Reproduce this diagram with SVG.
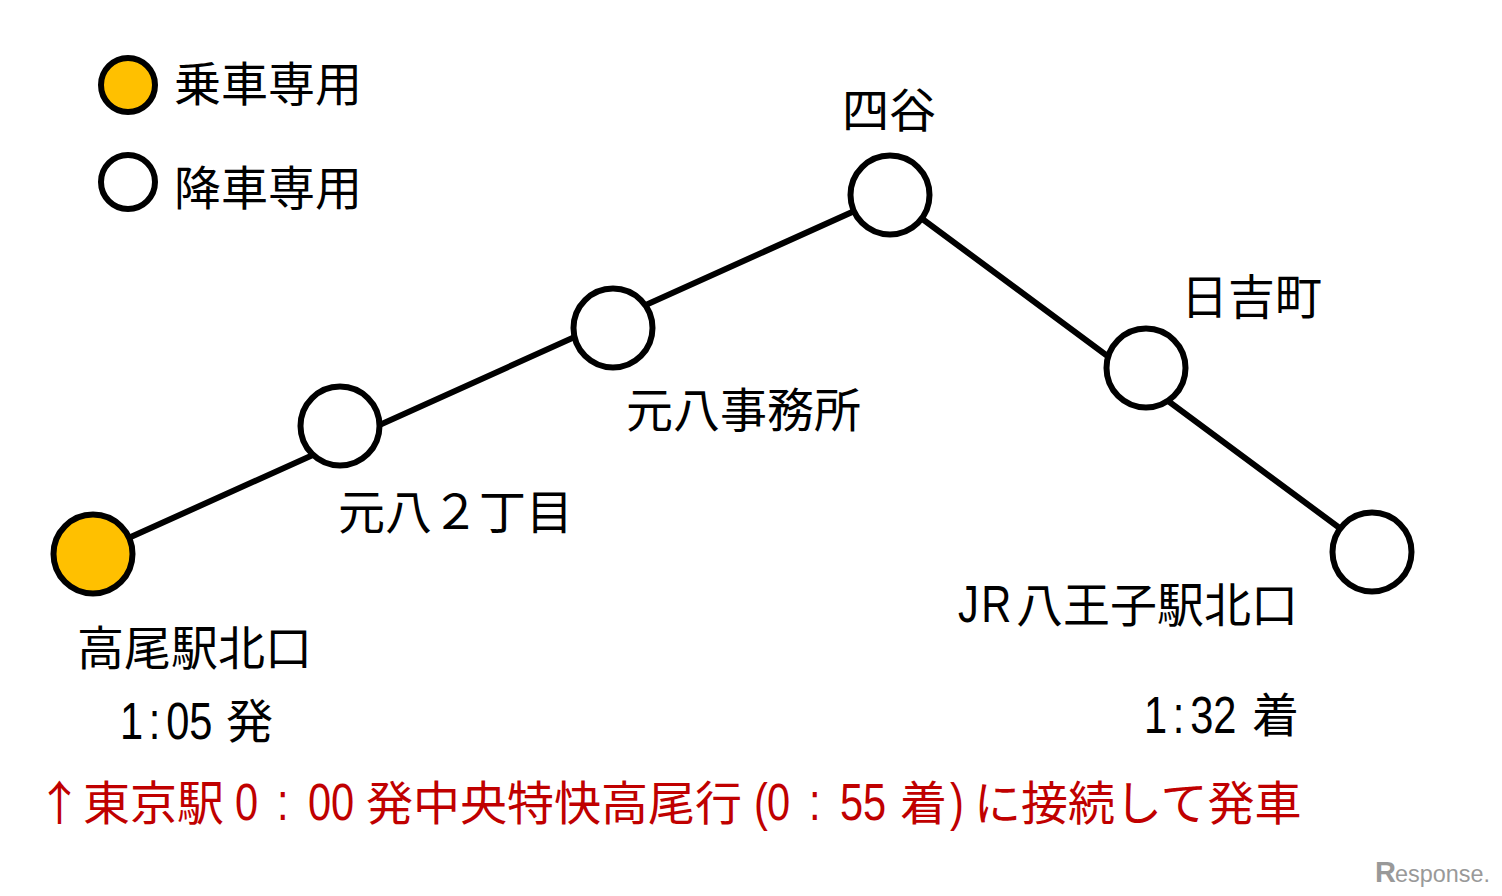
<svg xmlns="http://www.w3.org/2000/svg" width="1502" height="896" viewBox="0 0 1502 896">
<style>
.s{fill:#fff;stroke:#000;stroke-width:6}
.o{fill:#ffc000;stroke:#000;stroke-width:6}
.l{stroke:#000;stroke-width:6;fill:none}
text{font-family:"Noto Sans CJK JP","Liberation Sans",sans-serif;font-size:47px;fill:#000;font-weight:400}
.n{font-family:"Liberation Sans",sans-serif;font-size:52px}
.r{fill:#c00000}
.w{font-family:"Liberation Sans",sans-serif;font-size:23px;fill:#999}
.wr{font-family:"Liberation Sans",sans-serif;font-size:29px;font-weight:700;fill:#999}
</style>
<rect width="1502" height="896" fill="#fff"/>
<g id="connectors">
<path class="l" d="M93 554L890 195L1372 552"/>
</g>
<g id="legend-board"><circle class="o" cx="128" cy="85" r="27"/><text x="174" y="101">乗車専用</text></g>
<g id="legend-alight"><circle class="s" cx="128" cy="182" r="27"/><text x="174" y="205">降車専用</text></g>
<g id="n1"><circle class="o" cx="93" cy="554" r="39.500"/><text x="77" y="665">高尾駅北口</text>
<text class="n" transform="translate(120 739) scale(.8 1)" x="0 36 57.800 86.700">1:05</text><text x="226" y="738">発</text></g>
<g id="n2"><circle class="s" cx="340" cy="426" r="39.500"/><text x="338" y="529">元八２丁目</text></g>
<g id="n3"><circle class="s" cx="613" cy="328" r="39.500"/><text x="626" y="427">元八事務所</text></g>
<g id="n4"><circle class="s" cx="890" cy="195" r="39.500"/><text x="842" y="127">四谷</text></g>
<g id="n5"><circle class="s" cx="1146" cy="368" r="39.500"/><text x="1181" y="314">日吉町</text></g>
<g id="n6"><circle class="s" cx="1372" cy="552" r="39.500"/><text class="n" transform="translate(958 622) scale(.8 1)" x="0 29">JR</text><text x="1016" y="622">八王子駅北口</text>
<text class="n" transform="translate(1144 733) scale(.8 1)" x="0 36 57.800 86.700">1:32</text><text x="1252" y="732">着</text></g>
<g id="note">
<text class="r" x="36" y="820">↑東京駅</text>
<text class="n r" transform="translate(235 820) scale(.8 1)">0</text>
<text class="n r" transform="translate(277 820) scale(.8 1)">:</text>
<text class="n r" transform="translate(308 820) scale(.8 1)" x="0 28.900">00</text>
<text class="r" x="366" y="820">発中央特快高尾行</text>
<text class="n r" transform="translate(754 820) scale(.8 1)">(</text>
<text class="n r" transform="translate(767 820) scale(.8 1)">0</text>
<text class="n r" transform="translate(809 820) scale(.8 1)">:</text>
<text class="n r" transform="translate(840 820) scale(.8 1)" x="0 28.900">55</text>
<text class="r" x="900" y="820">着</text>
<text class="n r" transform="translate(950 820) scale(.8 1)">)</text>
<text class="r" x="974" y="820">に接続して発車</text>
</g>
<g id="watermark"><text class="wr" x="1375" y="882">R</text><text class="w" x="1395" y="882" textLength="95" lengthAdjust="spacingAndGlyphs">esponse.</text></g>
</svg>
